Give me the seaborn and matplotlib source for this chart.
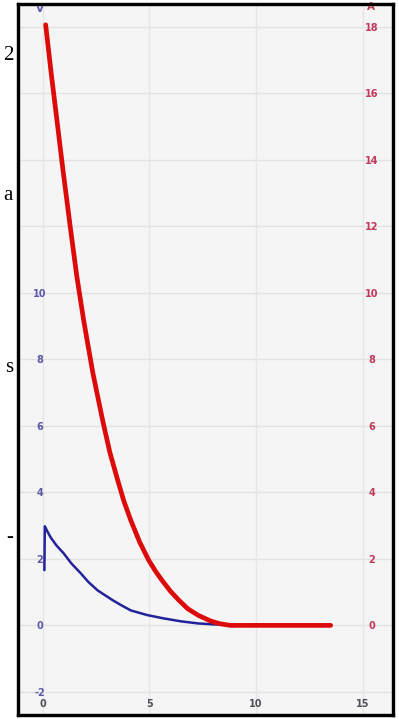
import matplotlib
matplotlib.use("Agg")
import matplotlib.pyplot as plt
import seaborn as sns
import pandas as pd

# Current (A), red trace
red_t = [0.14, 0.4, 0.61, 0.95, 1.31, 1.6, 1.92, 2.35, 2.81, 3.15, 3.52, 3.8, 4.13, 4.55, 4.97,
         5.3, 5.6, 6.0, 6.38, 6.8, 7.3, 7.88, 8.3, 8.8, 9.5, 11.0, 12.5, 13.5]
red_i = [18.06, 16.6, 15.5, 13.7, 11.9, 10.5, 9.18, 7.6, 6.17, 5.2, 4.36, 3.75, 3.16, 2.5, 1.96,
         1.62, 1.35, 1.02, 0.76, 0.5, 0.3, 0.13, 0.05, 0.0, 0.0, 0.0, 0.0, 0.0]

# Voltage (V), blue trace
blue_t = [0.08, 0.1, 0.2, 0.37, 0.65, 0.98, 1.35, 1.78, 2.15, 2.58, 3.3, 3.7, 4.13, 4.9, 5.67,
          6.5, 7.27, 8.0, 9.0, 11.0, 13.5]
blue_v = [1.66, 2.98, 2.85, 2.65, 2.4, 2.17, 1.86, 1.57, 1.3, 1.05, 0.75, 0.6, 0.45, 0.31, 0.21,
          0.12, 0.06, 0.03, 0.0, 0.0, 0.0]

x_ticks = [0, 5, 10, 15]
v_ticks = [-2, 0, 2, 4, 6, 8, 10]
a_ticks = [0, 2, 4, 6, 8, 10, 12, 14, 16, 18]
grid_y = [-2, 0, 2, 4, 6, 8, 10, 12, 14, 16, 18]

page_words = [("2", 55), ("a", 195), ("s", 367), ("-", 537)]

sns.set_style("white", {"axes.facecolor": "#f5f5f5"})
plt.rcParams['font.family'] = ['DejaVu Sans']

W, H = 399, 719
fig = plt.figure(figsize=(W / 100, H / 100), dpi=100)
fig.patch.set_facecolor("white")
ax = fig.add_axes([17.5 / W, 1 - 714.5 / H, (392.5 - 17.5) / W, (714.5 - 3.5) / H])

df_red = pd.DataFrame({"t": red_t, "val": red_i})
df_blue = pd.DataFrame({"t": blue_t, "val": blue_v})

# grid
for g in grid_y:
    ax.axhline(g, color="#e2e2e2", lw=1.0, zorder=0)
for g in x_ticks:
    ax.axvline(g, color="#e6e6e6", lw=1.0, zorder=0)

sns.lineplot(data=df_blue, x="t", y="val", ax=ax, color="#22229a", lw=1.8, zorder=3, estimator=None)
sns.lineplot(data=df_red, x="t", y="val", ax=ax, color="#dd0a0a", lw=3.4, zorder=4, estimator=None)

ax.set_xlim(-1.18, 16.4)
ax.set_ylim(-2.68, 18.7)
ax.set_xlabel("")
ax.set_ylabel("")

ax.set_xticks(x_ticks)
ax.set_xticklabels([str(v) for v in x_ticks])
ax.set_yticks(v_ticks)
ax.set_yticklabels([str(v) for v in v_ticks])
ax.tick_params(axis="x", length=0, pad=-11, labelsize=7, labelcolor="#505058")
ax.tick_params(axis="y", length=0, pad=-16, labelsize=7, labelcolor="#5a5aa8")
for lab in ax.get_yticklabels():
    lab.set_ha("center")
    lab.set_fontweight("bold")
for lab in ax.get_xticklabels():
    lab.set_fontweight("bold")

ax2 = ax.twinx()
ax2.set_ylim(ax.get_ylim())
ax2.set_yticks(a_ticks)
ax2.set_yticklabels([str(v) for v in a_ticks])
ax2.tick_params(axis="y", length=0, pad=-15, labelsize=7, labelcolor="#c03a5a")
for lab in ax2.get_yticklabels():
    lab.set_ha("center")
    lab.set_fontweight("bold")

for a in (ax, ax2):
    for s in a.spines.values():
        s.set_color("black")
        s.set_linewidth(2.3)

ax.text(22.5 / 375, 1 - 5 / 711, "V", transform=ax.transAxes, ha="center", va="center",
        fontsize=7.5, fontweight="bold", color="#5a5aa8")
ax.text(353 / 375, 1 - 3 / 711, "A", transform=ax.transAxes, ha="center", va="center",
        fontsize=7.5, fontweight="bold", color="#c03a5a")

for w, y in page_words:
    fig.text(13 / W, 1 - y / H, w, ha="right", va="center", fontsize=15,
             family="Liberation Serif", color="black")

fig.savefig("out.png", dpi=100)
